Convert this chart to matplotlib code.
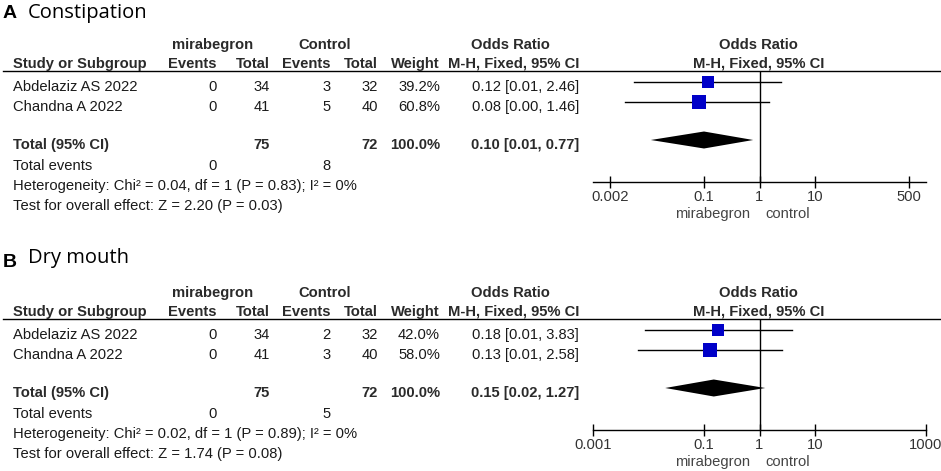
import numpy as np
import matplotlib.pyplot as plt
from matplotlib.patches import Polygon

studies = ["Abdelaziz AS 2022", "Chandna A 2022"]
mira_events = [0, 0]
mira_total = [34, 41]
ctrl_total = [32, 40]

# panel A - constipation
ctrl_events_a = [3, 5]
weight_a = [39.2, 60.8]
or_a = [0.12, 0.08]
lo_a = [0.0055, 0.0037]
hi_a = [2.46, 1.46]
tot_a = [0.10, 0.011, 0.77]
het_a = "Heterogeneity: Chi\u00b2 = 0.04, df = 1 (P = 0.83); I\u00b2 = 0%"
test_a = "Test for overall effect: Z = 2.20 (P = 0.03)"
ticks_a = [0.002, 0.1, 1, 10, 500]
ticklabels_a = ["0.002", "0.1", "1", "10", "500"]

# panel B - dry mouth
ctrl_events_b = [2, 3]
weight_b = [42.0, 58.0]
or_b = [0.18, 0.13]
lo_b = [0.0085, 0.0065]
hi_b = [3.83, 2.58]
tot_b = [0.15, 0.02, 1.27]
het_b = "Heterogeneity: Chi\u00b2 = 0.02, df = 1 (P = 0.89); I\u00b2 = 0%"
test_b = "Test for overall effect: Z = 1.74 (P = 0.08)"
ticks_b = [0.001, 0.1, 1, 10, 1000]
ticklabels_b = ["0.001", "0.1", "1", "10", "1000"]

W, H = 941, 471
TXT = "#1a1a1a"
FS = 10.6
tf = dict(family="Liberation Sans", fontsize=FS, color=TXT, va="baseline")
bf = dict(tf, fontweight="bold", color="#2a2a2a")

fig = plt.figure(figsize=(W / 100, H / 100), dpi=100)
bg = fig.add_axes([0, 0, 1, 1])
bg.set_xlim(0, W)
bg.set_ylim(H, 0)
bg.axis("off")

cols = [217, 270, 331, 378, 440, 579]


def panel(off, letter, title, y_letter, y_title, ctrl_events, weights, ors, los, his, tot,
          het, test, ticks, ticklabels):
    bg.text(3, y_letter, letter, family="Liberation Sans", fontweight="bold", fontsize=14,
            va="baseline", color="black")
    bg.text(28, y_title, title, family="Open Sans", fontsize=14.5, va="baseline", color="black")

    # headers
    bg.text(213, 49 + off, "mirabegron", ha="center", **bf)
    bg.text(325, 49 + off, "Control", ha="center", **bf)
    bg.text(510, 49 + off, "Odds Ratio", ha="center", **bf)
    bg.text(758, 49 + off, "Odds Ratio", ha="center", **bf)
    bg.text(13, 68 + off, "Study or Subgroup", ha="left", **bf)
    for x, s in zip(cols, ["Events", "Total", "Events", "Total", "Weight", "M-H, Fixed, 95% CI"]):
        bg.text(x, 68 + off, s, ha="right", **bf)
    bg.text(759, 68 + off, "M-H, Fixed, 95% CI", ha="center", **bf)
    bg.plot([3, 940], [70.5 + off, 70.5 + off], color="black", lw=1.0)

    rows = [91 + off, 111 + off]
    for i, y in enumerate(rows):
        bg.text(13, y, studies[i], ha="left", **tf)
        vals = [str(mira_events[i]), str(mira_total[i]), str(ctrl_events[i]), str(ctrl_total[i]),
                "%.1f%%" % weights[i], "%.2f [%.2f, %.2f]" % (ors[i], los[i], his[i])]
        for x, s in zip(cols, vals):
            bg.text(x, y, s, ha="right", **tf)

    yt = 149 + off
    bg.text(13, yt, "Total (95% CI)", ha="left", **bf)
    bg.text(cols[1], yt, str(sum(mira_total)), ha="right", **bf)
    bg.text(cols[3], yt, str(sum(ctrl_total)), ha="right", **bf)
    bg.text(cols[4], yt, "%.1f%%" % sum(weights), ha="right", **bf)
    bg.text(cols[5], yt, "%.2f [%.2f, %.2f]" % tuple(tot), ha="right", **bf)
    bg.text(13, 170 + off, "Total events", ha="left", **tf)
    bg.text(cols[0], 170 + off, str(sum(mira_events)), ha="right", **tf)
    bg.text(cols[2], 170 + off, str(sum(ctrl_events)), ha="right", **tf)
    bg.text(13, 190 + off, het, ha="left", **tf)
    bg.text(13, 210 + off, test, ha="left", **tf)

    bg.text(713, 218 + off, "mirabegron", ha="center", family="Liberation Sans",
            fontsize=FS, color="#444444", va="baseline")
    bg.text(788, 218 + off, "control", ha="center", family="Liberation Sans",
            fontsize=FS, color="#444444", va="baseline")

    # forest plot area
    y0, y1 = 70.5 + off, 182 + off
    ax = fig.add_axes([593 / W, 1 - y1 / H, 333 / W, (y1 - y0) / H])
    ax.set_facecolor("none")
    ax.set_xscale("log")
    ax.set_xlim(0.001, 1000)
    ax.set_ylim(y1, y0)
    for s in ["left", "right", "top"]:
        ax.spines[s].set_visible(False)
    ax.spines["bottom"].set_linewidth(1.0)
    ax.set_yticks([])
    ax.set_xticks(ticks)
    ax.set_xticklabels(ticklabels)
    ax.minorticks_off()
    ax.tick_params(axis="x", direction="inout", length=8, width=1, pad=2,
                   labelsize=FS, labelcolor="#333333")
    for lab in ax.get_xticklabels():
        lab.set_family("Liberation Sans")
    ax.axvline(1, color="black", lw=1.0)

    for i, y in enumerate(rows):
        ym = y - 9.5
        ax.plot([los[i], his[i]], [ym, ym], color="black", lw=1.0)
        side = 1.8 * np.sqrt(weights[i])
        ax.plot([ors[i]], [ym], marker="s", ms=side * 0.72, mew=0, color="#0000c8")
    yd = yt - 9
    ax.add_patch(Polygon([(tot[1], yd), (tot[0], yd - 8.5), (tot[2], yd), (tot[0], yd + 8.5)],
                         closed=True, color="black", lw=0))


panel(0, "A", "Constipation", 17.5, 18, ctrl_events_a, weight_a, or_a, lo_a, hi_a, tot_a,
      het_a, test_a, ticks_a, ticklabels_a)
panel(248, "B", "Dry mouth", 267, 263, ctrl_events_b, weight_b, or_b, lo_b, hi_b, tot_b,
      het_b, test_b, ticks_b, ticklabels_b)

plt.savefig("out.png", dpi=100)
